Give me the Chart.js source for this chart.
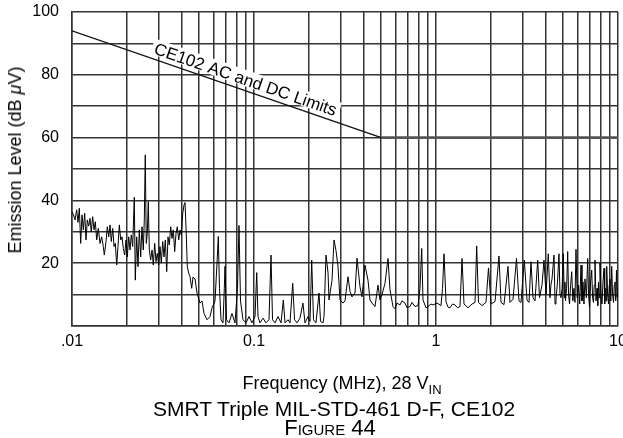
<!DOCTYPE html>
<html lang="en">
<head>
<meta charset="UTF-8">
<title>SMRT Triple MIL-STD-461 D-F, CE102</title>
<script src="https://cdn.jsdelivr.net/npm/chart.js"></script>
<style>
    body {
        margin: 0;
        background: #fff;
        font-family: "Liberation Sans", Arial, sans-serif;
        color: #000;
    }

    #wrap {
        position: relative;
        width: 623px;
        height: 438px;
        overflow: hidden;
    }

    .txt {
        position: absolute;
        white-space: nowrap;
        line-height: 1;
        text-align: center;
    }

    #xtitle { left: 142px; width: 400px; top: 374px; font-size: 18px; }
    #caption { left: 84px; width: 500px; top: 398px; font-size: 21px; }
    #figure { left: 180px; width: 300px; top: 417px; font-size: 22px; font-variant: small-caps; }
    #ytitle { left: 15px; top: 160px; font-size: 18px; transform: translate(-50%, -50%) rotate(-90deg); }

    sub { font-size: 13px; vertical-align: -5px; line-height: 0; }
</style>
</head>
<body>
<div id="wrap">
    <canvas id="chart"></canvas>
    <div class="txt" id="ytitle">Emission Level (dB <i>μ</i>V)</div>
    <div class="txt" id="xtitle">Frequency (MHz), 28 V<sub>IN</sub></div>
    <div class="txt" id="caption">SMRT Triple MIL-STD-461 D-F, CE102</div>
    <div class="txt" id="figure">Figure 44</div>
</div>

<script>
    // measured emission, frequency in MHz
    const emissionFreq = [
        // 10 kHz - 45 kHz, broadband noise
        0.01000, 0.01019, 0.01039, 0.01061, 0.01079, 0.01097, 0.01116, 0.01135, 0.01154, 0.01174,
        0.01194, 0.01214, 0.01235, 0.01256, 0.01276, 0.01299, 0.01321, 0.01343, 0.01367, 0.01395,
        0.01425, 0.01456, 0.01486, 0.01505, 0.01538, 0.01563, 0.01591, 0.01618, 0.01644, 0.01674,
        0.01702, 0.01730, 0.01761, 0.01789, 0.01820, 0.01852, 0.01883, 0.01914, 0.01948, 0.01980,
        0.02013, 0.02049, 0.02083, 0.02118, 0.02155, 0.02199, 0.02227, 0.02267, 0.02305, 0.02343,
        0.02385, 0.02424, 0.02465, 0.02496, 0.02527, 0.02559, 0.02592, 0.02625, 0.02659, 0.02706,
        0.02752, 0.02797, 0.02847, 0.02894, 0.02942, 0.02995, 0.03045, 0.03095, 0.03151, 0.03203,
        0.03256, 0.03314, 0.03369, 0.03425, 0.03486, 0.03544, 0.03602, 0.03667, 0.03728, 0.03790,
        0.03858, 0.03922, 0.03987, 0.04058, 0.04126, 0.04178, 0.04231, 0.04301, 0.04378,
        // 45 kHz - 240 kHz, floor with spikes
        0.04451, 0.04547, 0.04623, 0.04741, 0.04862, 0.0505, 0.05179, 0.05312, 0.05517, 0.05731,
        0.05878, 0.06106, 0.06262, 0.06365, 0.06463, 0.06587, 0.06756, 0.06868, 0.06929, 0.07062,
        0.07289, 0.0757, 0.07863, 0.08115, 0.08271, 0.0843, 0.08701, 0.09036, 0.09387, 0.0975,
        0.1013, 0.1035, 0.1052, 0.1079, 0.1121, 0.1164, 0.1209, 0.1240, 0.1264, 0.1305,
        0.1355, 0.1408, 0.1449, 0.1480, 0.1538, 0.1577, 0.1632, 0.1670, 0.1723, 0.1789,
        0.1858, 0.1906, 0.1980, 0.2031, 0.2075, 0.2123, 0.2191, 0.2276, 0.2320, 0.2394,
        // 240 kHz - 1.4 MHz
        0.2425, 0.2487, 0.2551, 0.2583, 0.2683, 0.2752, 0.2822, 0.2894, 0.2969, 0.3083,
        0.3162, 0.3285, 0.3369, 0.3456, 0.3589, 0.3681, 0.3823, 0.3921, 0.4073, 0.4230,
        0.4339, 0.4450, 0.4622, 0.4801, 0.4924, 0.5050, 0.5246, 0.5449, 0.5589, 0.5803,
        0.5953, 0.6105, 0.6341, 0.6505, 0.6755, 0.6929, 0.7195, 0.7382, 0.7666, 0.7962,
        0.8167, 0.8344, 0.8483, 0.8812, 0.9037, 0.9387, 0.9627, 1.013, 1.065, 1.086,
        1.107, 1.135, 1.164, 1.194, 1.232, 1.272, 1.313, 1.355,
        // 1.4 MHz - 3.9 MHz, harmonics
        1.390, 1.425, 1.499, 1.577, 1.638, 1.673, 1.712, 1.789, 1.882, 1.943,
        2.006, 2.110, 2.219, 2.276, 2.364, 2.486, 2.550, 2.649, 2.769, 2.858,
        2.931, 3.056, 3.162, 3.243, 3.327, 3.412, 3.499, 3.621, 3.704, 3.823,
        // 3.9 MHz - 10 MHz, dense harmonics
        3.921, 4.022, 4.140, 4.230, 4.28, 4.339, 4.450, 4.51, 4.563, 4.651,
        4.740, 4.80, 4.862, 4.93, 5.006, 5.07, 5.11, 5.147, 5.22, 5.292,
        5.35, 5.414, 5.49, 5.566, 5.65, 5.730, 5.80, 5.877, 5.97, 6.067,
        6.16, 6.262, 6.34, 6.422, 6.50, 6.587, 6.70, 6.815, 6.89, 6.973,
        7.07, 7.170, 7.25, 7.335, 7.40, 7.475, 7.57, 7.667, 7.74, 7.814,
        7.89, 7.963, 8.06, 8.167, 8.27, 8.377, 8.45, 8.538, 8.60, 8.668,
        8.77, 8.868, 8.95, 9.037, 9.13, 9.234, 9.34, 9.447, 9.54, 9.627,
        9.72, 9.813, 9.90, 10.0
    ];

    // measured emission level, dB µV
    const emissionLevel = [
        36.4, 35.4, 33.8, 37, 33, 37.5, 26.3, 35.4, 30.6, 35.9,
        27.4, 33.8, 31.8, 34.3, 30, 34.8, 30.6, 33.2, 27.4, 31.1,
        26.3, 28.4, 25.3, 22.6, 26.9, 31.6, 28.4, 32.2, 26.9, 31.1,
        25.3, 26.3, 19.4, 25.3, 32.2, 27.4, 28.4, 24.7, 22.6, 27.4,
        22, 28.4, 24.2, 29, 25.3, 41, 14.6, 28.4, 18.9, 30.6,
        22, 31.6, 24.2, 33.8, 54.5, 26.3, 29.5, 39.6, 24.2, 21,
        24.2, 19.4, 26.3, 20.5, 23.1, 19.4, 25.3, 20, 26.9, 22,
        27.4, 17.3, 28.4, 25.8, 31.6, 27.9, 30.6, 23.7, 29.5, 31.6,
        27.4, 30.6, 29, 35.9, 38.5, 39.3, 31.6, 18.9, 16.8,

        15.7, 12, 15.6, 15, 10.5, 7.3, 8, 4, 2, 3,
        5.7, 8, 20, 28.5, 12, 2, 1, 12, 19, 2,
        1, 4, 1, 12, 32, 8, 2, 1, 3, 1,
        3, 17, 3, 1, 2.5, 1, 2, 22.6, 2, 1,
        3, 1, 8.3, 1, 2, 1, 13.6, 2, 1, 2.5,
        7.3, 1, 3, 1.5, 21, 2, 1, 10.5, 1.5, 1,

        3, 22.6, 17, 8.3, 14.6, 27.4, 24, 19, 8.3, 7.3,
        8, 15.7, 11, 9.3, 10.5, 21.6, 12.5, 9.3, 19.4, 14.6,
        8.3, 7.3, 6.2, 13, 8.3, 10, 13.6, 21.5, 11.5, 6.2,
        5.5, 7.3, 6.7, 8, 7.3, 5.8, 6.2, 7.5, 6.2, 6.5,
        12, 24.7, 8.3, 5.8, 6.2, 7, 6.7, 7.3, 6.5, 12,
        23, 7.7, 6, 5.8, 7, 6.7, 5.8, 6.2,

        21.5, 7, 5.8, 7, 7.5, 25.5, 7.5, 6.5, 7.5, 18.5,
        7, 7.8, 22.3, 7.5, 6.8, 19, 7.5, 8.5, 21.5, 8,
        7.5, 21, 8.3, 7.5, 20.5, 9, 8, 21, 9, 13,

        21, 10, 23, 9, 13, 15, 22.6, 7, 8.5, 14,
        23, 10, 9, 12, 23, 9, 14, 8, 12, 23.7,
        10, 7, 13, 17.3, 8, 12, 7.5, 24.4, 9, 13,
        7, 19.4, 8, 14, 7, 15, 9, 21.5, 10, 6,
        14, 17.8, 9, 7.5, 13, 21, 8, 12, 6.5, 14,
        9, 20, 10, 7, 14, 18.4, 7, 12, 8, 19,
        10, 7, 13, 15, 8, 19, 10, 7.5, 13, 14,
        8, 17.8, 9, 12
    ];

    // CE102 limit, MHz / dB µV
    const limitFreq = [0.01, 0.5, 10];
    const limitLevel = [94, 60, 60];
    const limitLabel = 'CE102 AC and DC Limits';
    const limitLabelFreq = 0.086;

    // axis ticks
    const freqTickValues = [0.01, 0.1, 1, 10];
    const freqTickText = ['.01', '0.1', '1', '10'];
    const levelTickValues = [20, 40, 60, 80, 100];

    // a grid line at every 1..9 of each decade
    const gridFreqs = [];
    freqTickValues.slice(0, 3).forEach(d => {
        for (let k = 1; k < 10; k++) gridFreqs.push(+(d * k).toPrecision(3));
    });
    gridFreqs.push(10);

    const FONT = '"Liberation Sans", Arial, sans-serif';
    const GRID = '#333';

    Chart.defaults.font.family = FONT;
    Chart.defaults.color = '#000';

    const toPoints = (xs, ys) => xs.map((x, i) => ({ x: x, y: ys[i] }));

    // rotated text along the sloped limit line
    const limitLabelPlugin = {
        id: 'limitLabel',
        afterDatasetsDraw(chart) {
            const { ctx, scales: { x, y } } = chart;
            const x0 = x.getPixelForValue(limitFreq[0]), y0 = y.getPixelForValue(limitLevel[0]);
            const x1 = x.getPixelForValue(limitFreq[1]), y1 = y.getPixelForValue(limitLevel[1]);
            const ang = Math.atan2(y1 - y0, x1 - x0);
            const px = x.getPixelForValue(limitLabelFreq);
            const py = y0 + (px - x0) * Math.tan(ang);

            ctx.save();
            ctx.translate(px, py);
            ctx.rotate(ang);
            ctx.font = '17px ' + FONT;
            const w = ctx.measureText(limitLabel).width;
            ctx.fillStyle = '#fff';
            ctx.fillRect(-w / 2 - 3, -20, w + 6, 16);
            ctx.fillStyle = '#000';
            ctx.textAlign = 'center';
            ctx.textBaseline = 'alphabetic';
            ctx.fillText(limitLabel, 0, -5);
            ctx.restore();
        }
    };

    const ctx = document.getElementById('chart').getContext('2d');
    new Chart(ctx, {
        type: 'scatter',
        data: {
            datasets: [
                {
                    data: toPoints(emissionFreq, emissionLevel),
                    showLine: true,
                    borderColor: '#000',
                    borderWidth: 1,
                    pointRadius: 0
                },
                {
                    data: toPoints(limitFreq.slice(0, 2), limitLevel.slice(0, 2)),
                    showLine: true,
                    borderColor: '#111',
                    borderWidth: 1.4,
                    pointRadius: 0
                },
                {
                    data: toPoints(limitFreq.slice(1), limitLevel.slice(1)),
                    showLine: true,
                    borderColor: '#555',
                    borderWidth: 2.6,
                    pointRadius: 0
                }
            ]
        },
        options: {
            responsive: true,
            maintainAspectRatio: false,
            animation: false,
            events: [],
            layout: { padding: { left: 0, top: 12, right: 5, bottom: 0 } },
            plugins: {
                legend: { display: false },
                tooltip: { enabled: false }
            },
            scales: {
                x: {
                    type: 'logarithmic',
                    min: 0.01,
                    max: 10,
                    afterBuildTicks: s => { s.ticks = gridFreqs.map(v => ({ value: v })); },
                    afterFit: s => {
                        s.height = 112;
                        s.paddingLeft = 0;
                        s.paddingRight = 0;
                    },
                    ticks: {
                        autoSkip: false,
                        maxRotation: 0,
                        padding: 6,
                        font: { size: 16 },
                        color: '#000',
                        callback: v => {
                            const i = freqTickValues.findIndex(t => Math.abs(t - v) < 1e-9);
                            return i < 0 ? '' : freqTickText[i];
                        }
                    },
                    grid: { color: GRID, lineWidth: 1.5, drawTicks: false },
                    border: { color: GRID, width: 1.5 }
                },
                y: {
                    min: 0,
                    max: 100,
                    afterFit: s => {
                        s.width = 72;
                        s.paddingTop = 0;
                        s.paddingBottom = 0;
                    },
                    ticks: {
                        stepSize: 10,
                        padding: 13,
                        font: { size: 16 },
                        color: '#000',
                        callback: v => levelTickValues.includes(v) ? String(v) : ''
                    },
                    grid: { color: GRID, lineWidth: 1.5, drawTicks: false },
                    border: { color: GRID, width: 1.5 }
                }
            }
        },
        plugins: [limitLabelPlugin]
    });
</script>
</body>
</html>
